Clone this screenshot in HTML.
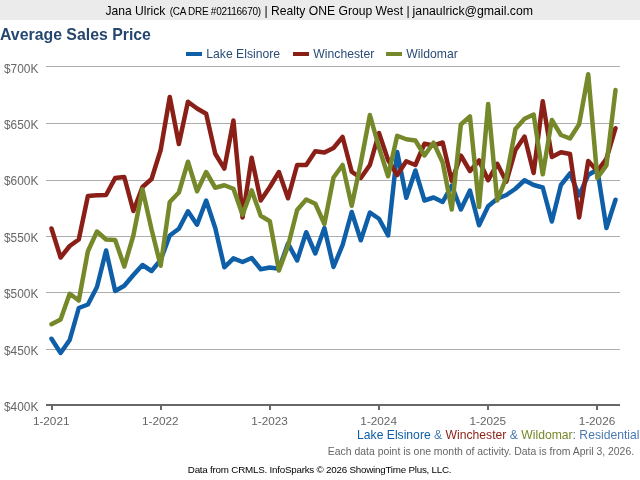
<!DOCTYPE html>
<html><head><meta charset="utf-8"><title>Average Sales Price</title>
<style>
html,body{margin:0;padding:0;background:#fff;}
body{width:640px;height:480px;position:relative;overflow:hidden;font-family:"Liberation Sans",Arial,sans-serif;}
#hdr{position:absolute;left:0;top:0;width:640px;height:20px;background:#ebebeb;font-size:12px;color:#000;white-space:nowrap;}
#hdr span{position:absolute;top:0;line-height:23px;}
#sub1{position:absolute;right:0.5px;top:427px;font-size:12.17px;line-height:16px;color:#4a7ab5;white-space:nowrap;}
#sub2{position:absolute;right:5.9px;top:443.5px;font-size:10.43px;line-height:16px;color:#666;white-space:nowrap;}
#foot{position:absolute;left:187.8px;top:461.6px;font-size:9.8px;letter-spacing:-0.225px;line-height:16px;color:#000;white-space:nowrap;}
</style></head><body>
<div id="hdr"><span style="left:105.5px;font-size:12.1px">Jana Ulrick</span><span style="left:169.7px;font-size:10px;letter-spacing:-0.27px;top:0px">(CA DRE #02116670)</span><span style="left:264.5px;font-size:12.15px">| Realty ONE Group West |</span><span style="left:412.6px;font-size:12.3px">janaulrick@gmail.com</span></div>
<svg width="640" height="480" viewBox="0 0 640 480" style="position:absolute;left:0;top:0" font-family="'Liberation Sans', Arial, sans-serif">
<line x1="46" x2="620" y1="66.50" y2="66.50" stroke="#adadad" stroke-width="1"/>
<line x1="46" x2="620" y1="123.50" y2="123.50" stroke="#adadad" stroke-width="1"/>
<line x1="46" x2="620" y1="180.50" y2="180.50" stroke="#adadad" stroke-width="1"/>
<line x1="46" x2="620" y1="236.50" y2="236.50" stroke="#adadad" stroke-width="1"/>
<line x1="46" x2="620" y1="292.50" y2="292.50" stroke="#adadad" stroke-width="1"/>
<line x1="46" x2="620" y1="349.50" y2="349.50" stroke="#adadad" stroke-width="1"/>
<rect x="46" y="404" width="574" height="2" fill="#686868"/>
<rect x="51.00" y="404" width="2" height="6" fill="#686868"/>
<rect x="160.00" y="404" width="2" height="6" fill="#686868"/>
<rect x="269.00" y="404" width="2" height="6" fill="#686868"/>
<rect x="378.00" y="404" width="2" height="6" fill="#686868"/>
<rect x="487.00" y="404" width="2" height="6" fill="#686868"/>
<rect x="596.00" y="404" width="2" height="6" fill="#686868"/>
<text x="4" y="72.60" font-size="11.9" fill="#666">$700K</text>
<text x="4" y="129.02" font-size="11.9" fill="#666">$650K</text>
<text x="4" y="185.44" font-size="11.9" fill="#666">$600K</text>
<text x="4" y="241.86" font-size="11.9" fill="#666">$550K</text>
<text x="4" y="298.28" font-size="11.9" fill="#666">$500K</text>
<text x="4" y="354.70" font-size="11.9" fill="#666">$450K</text>
<text x="4" y="411.12" font-size="11.9" fill="#666">$400K</text>
<text x="51.20" y="425" font-size="11.75" fill="#666" text-anchor="middle">1-2021</text>
<text x="160.35" y="425" font-size="11.75" fill="#666" text-anchor="middle">1-2022</text>
<text x="269.50" y="425" font-size="11.75" fill="#666" text-anchor="middle">1-2023</text>
<text x="378.65" y="425" font-size="11.75" fill="#666" text-anchor="middle">1-2024</text>
<text x="487.80" y="425" font-size="11.75" fill="#666" text-anchor="middle">1-2025</text>
<text x="596.95" y="425" font-size="11.75" fill="#666" text-anchor="middle">1-2026</text>
<polyline fill="none" stroke="#0e5ea8" stroke-width="4.5" stroke-linejoin="round" stroke-linecap="round" points="51.50,338.75 60.60,353.00 69.69,340.00 78.79,308.00 87.89,304.50 96.98,287.00 106.08,250.50 115.18,291.00 124.28,285.80 133.37,275.00 142.47,265.00 151.57,271.00 160.66,260.00 169.76,235.50 178.86,228.75 187.95,211.25 197.05,224.75 206.15,200.50 215.25,228.00 224.34,267.30 233.44,258.30 242.54,262.00 251.63,258.00 260.73,269.25 269.83,267.50 278.92,268.75 288.02,243.50 297.12,260.50 306.22,232.25 315.31,253.50 324.41,228.00 333.51,267.00 342.60,245.00 351.70,212.00 360.80,240.25 369.89,212.50 378.99,218.75 388.09,235.50 397.19,152.00 406.28,197.75 415.38,170.50 424.48,200.50 433.57,197.50 442.67,202.00 451.77,185.50 460.86,209.50 469.96,190.50 479.06,225.25 488.16,206.25 497.25,198.75 506.35,195.00 515.45,188.75 524.54,180.25 533.64,185.00 542.74,187.50 551.84,221.50 560.93,185.00 570.03,173.50 579.13,195.50 588.22,175.00 597.32,169.50 606.42,228.00 615.51,199.75"/>
<polyline fill="none" stroke="#8a1f17" stroke-width="4.5" stroke-linejoin="round" stroke-linecap="round" points="51.50,228.50 60.60,257.50 69.69,246.00 78.79,239.50 87.89,196.00 96.98,195.30 106.08,195.00 115.18,178.00 124.28,177.00 133.37,211.00 142.47,187.00 151.57,179.00 160.66,150.00 169.76,97.00 178.86,144.00 187.95,101.75 197.05,108.50 206.15,113.75 215.25,153.75 224.34,168.70 233.44,120.50 242.54,217.50 251.63,157.75 260.73,200.50 269.83,187.00 278.92,172.00 288.02,198.25 297.12,165.00 306.22,165.00 315.31,151.25 324.41,152.50 333.51,148.00 342.60,137.00 351.70,171.75 360.80,178.00 369.89,165.00 378.99,133.00 388.09,160.00 397.19,175.00 406.28,161.25 415.38,165.00 424.48,143.75 433.57,145.50 442.67,142.50 451.77,181.00 460.86,155.50 469.96,171.00 479.06,160.50 488.16,180.25 497.25,163.80 506.35,181.70 515.45,150.00 524.54,136.50 533.64,173.00 542.74,101.25 551.84,157.00 560.93,152.25 570.03,154.00 579.13,217.50 588.22,161.00 597.32,171.00 606.42,158.75 615.51,128.20"/>
<polyline fill="none" stroke="#76892a" stroke-width="4.5" stroke-linejoin="round" stroke-linecap="round" points="51.50,324.25 60.60,319.50 69.69,293.75 78.79,300.50 87.89,251.25 96.98,231.50 106.08,239.50 115.18,239.90 124.28,266.50 133.37,235.50 142.47,189.20 151.57,229.50 160.66,265.80 169.76,202.00 178.86,192.50 187.95,161.75 197.05,191.25 206.15,172.00 215.25,187.75 224.34,185.25 233.44,188.75 242.54,214.75 251.63,190.25 260.73,215.75 269.83,221.25 278.92,270.50 288.02,246.00 297.12,210.00 306.22,199.50 315.31,203.75 324.41,224.00 333.51,177.50 342.60,165.00 351.70,205.80 360.80,163.00 369.89,115.00 378.99,147.50 388.09,176.25 397.19,135.75 406.28,139.25 415.38,140.50 424.48,155.50 433.57,142.75 442.67,162.50 451.77,209.50 460.86,124.50 469.96,116.50 479.06,207.00 488.16,104.00 497.25,200.50 506.35,177.50 515.45,129.00 524.54,118.75 533.64,114.50 542.74,174.30 551.84,120.00 560.93,135.00 570.03,138.50 579.13,124.25 588.22,74.25 597.32,178.00 606.42,165.50 615.51,90.00"/>
<rect x="186" y="52" width="16" height="4" fill="#0e5ea8"/>
<text x="206.3" y="58.3" font-size="12.2" fill="#2a4c78">Lake Elsinore</text>
<rect x="293" y="52" width="16" height="4" fill="#8a1f17"/>
<text x="313.3" y="58.3" font-size="12.2" fill="#2a4c78">Winchester</text>
<rect x="386" y="52" width="16" height="4" fill="#76892a"/>
<text x="406.3" y="58.3" font-size="12.2" fill="#2a4c78">Wildomar</text>
<text x="0" y="40" font-size="15.85" font-weight="bold" fill="#25476f">Average Sales Price</text>
</svg>
<div id="sub1"><span style="color:#0e5ea8">Lake Elsinore</span> &amp; <span style="color:#8a1f17">Winchester</span> &amp; <span style="color:#76892a">Wildomar</span>: Residential</div>
<div id="sub2">Each data point is one month of activity. Data is from April 3, 2026.</div>
<div id="foot">Data from CRMLS. InfoSparks © 2026 ShowingTime Plus, LLC.</div>
</body></html>
